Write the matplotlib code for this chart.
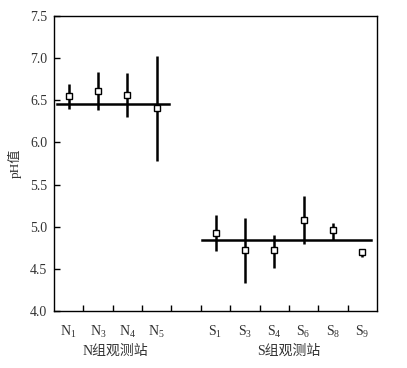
import matplotlib
matplotlib.use("Agg")
import matplotlib.pyplot as plt
from matplotlib.transforms import blended_transform_factory

plt.rcParams['font.family'] = ['Liberation Serif', 'Noto Sans CJK SC']
plt.rcParams['mathtext.default'] = 'regular'

# station data (pH value, upper and lower ends of the bars)
n_labels = ["N$_1$", "N$_3$", "N$_4$", "N$_5$"]
n_mean = [6.55, 6.61, 6.56, 6.41]
n_top = [6.69, 6.84, 6.82, 7.03]
n_bot = [6.40, 6.38, 6.30, 5.78]
n_group_mean = 6.46

s_labels = ["S$_1$", "S$_3$", "S$_4$", "S$_6$", "S$_8$", "S$_9$"]
s_mean = [4.93, 4.72, 4.72, 5.08, 4.96, 4.70]
s_top = [5.14, 5.10, 4.90, 5.36, 5.04, 4.74]
s_bot = [4.71, 4.33, 4.51, 4.80, 4.84, 4.64]
s_group_mean = 4.84

n_x = [0.5 + i for i in range(len(n_labels))]
s_x = [5.5 + i for i in range(len(s_labels))]

fig = plt.figure(figsize=(4.07, 3.68), dpi=100)
ax = fig.add_axes([0.1327, 0.1549, 0.7936, 0.8016])

for xs, m, t, b in [(n_x, n_mean, n_top, n_bot), (s_x, s_mean, s_top, s_bot)]:
    yerr = [[mm - bb for mm, bb in zip(m, b)], [tt - mm for mm, tt in zip(m, t)]]
    ax.errorbar(xs, m, yerr=yerr, fmt='s', color='black', ecolor='black',
                elinewidth=1.8, capsize=0, markersize=4.6,
                markerfacecolor='white', markeredgecolor='black',
                markeredgewidth=1.0, zorder=3)

ax.plot([0.1, 3.9], [n_group_mean] * 2, color='black', lw=1.8, zorder=2)
ax.plot([5.03, 10.8], [s_group_mean] * 2, color='black', lw=1.8, zorder=2)

ax.set_xlim(0, 11)
ax.set_ylim(4.0, 7.5)
ax.set_yticks([4.0, 4.5, 5.0, 5.5, 6.0, 6.5, 7.0, 7.5])
ax.set_yticklabels(["4.0", "4.5", "5.0", "5.5", "6.0", "6.5", "7.0", "7.5"])
ax.set_xticks(list(range(1, 11)))
ax.set_xticklabels([])
ax.set_xticks(n_x + s_x, minor=True)
ax.set_xticklabels(n_labels + s_labels, minor=True)
ax.tick_params(axis='x', which='major', direction='in', length=4, width=1)
ax.tick_params(axis='x', which='minor', length=0, pad=9, labelsize=10, labelcolor='#333333')
ax.tick_params(axis='y', direction='in', length=4, width=1, labelsize=10, labelcolor='#333333', pad=5)
for sp in ax.spines.values():
    sp.set_linewidth(1.0)

ax.set_ylabel("pH值", fontsize=9.5, color='#333333', labelpad=6)

tr = blended_transform_factory(ax.transData, ax.transAxes)
ax.text(2.1, -0.135, "N组观测站", transform=tr, ha='center', va='center', fontsize=10, color='#333333')
ax.text(8.0, -0.135, "S组观测站", transform=tr, ha='center', va='center', fontsize=10, color='#333333')

fig.savefig("out.png", dpi=100)
